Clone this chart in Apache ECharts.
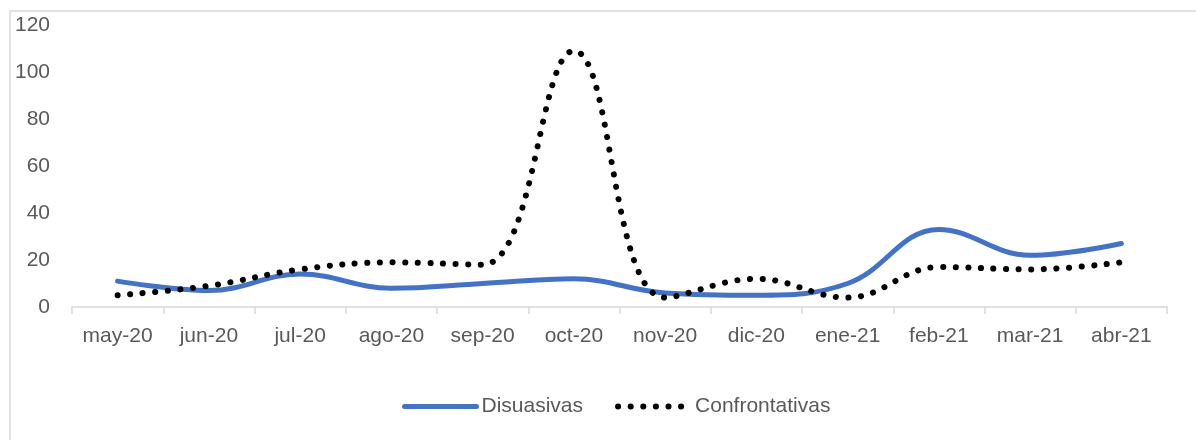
<!DOCTYPE html>
<html>
<head>
<meta charset="utf-8">
<script src="https://cdn.jsdelivr.net/npm/echarts@6/dist/echarts.min.js"></script>
<style>
  html, body { margin: 0; padding: 0; background: #fff; }
  #chart { width: 1196px; height: 440px; }
</style>
</head>
<body>
<div id="chart"></div>
<script>
const months = ["may-20", "jun-20", "jul-20", "ago-20", "sep-20", "oct-20",
  "nov-20", "dic-20", "ene-21", "feb-21", "mar-21", "abr-21"];
const disuasivas = [11, 7, 14, 8, 10, 12, 6, 5, 10, 33, 22, 27];
const confrontativas = [5, 9, 16, 19, 18, 109, 4, 12, 4, 17, 16, 19];
const yTicks = { min: 0, max: 120, interval: 20 };

const textColor = "#595959";
const lineGrey = "#d9d9d9";
const font = "'Liberation Sans', Arial, sans-serif";

const myChart = echarts.init(document.getElementById("chart"));

const option = {
  animation: false,
  graphic: [
    {
      type: "rect",
      shape: { x: 10, y: 11, width: 1200, height: 440 },
      style: { fill: "none", stroke: lineGrey, lineWidth: 1.5 },
      silent: true
    }
  ],
  legend: {
    bottom: 18,
    left: 397,
    itemWidth: 72,
    itemHeight: 12,
    itemGap: 32,
    textStyle: { color: textColor, fontSize: 21, fontFamily: font },
    data: [
      {
        name: "Disuasivas",
        itemStyle: { opacity: 0 },
        lineStyle: { width: 5, color: "#4472C4", cap: "round" }
      },
      {
        name: "Confrontativas",
        itemStyle: { opacity: 0 },
        lineStyle: { width: 6, color: "#000", type: [0.1, 12.5], cap: "round" }
      }
    ]
  },
  grid: { left: 72, right: 29, top: 25, bottom: 133 },
  xAxis: {
    type: "category",
    data: months,
    boundaryGap: true,
    axisLine: { lineStyle: { color: lineGrey, width: 1.5 } },
    axisTick: { show: true, length: 7, lineStyle: { color: lineGrey, width: 1.5 } },
    axisLabel: { color: textColor, fontSize: 21, fontFamily: font, margin: 19 }
  },
  yAxis: {
    type: "value",
    min: yTicks.min,
    max: yTicks.max,
    interval: yTicks.interval,
    axisLine: { show: false },
    axisTick: { show: false },
    splitLine: { show: false },
    axisLabel: { color: textColor, fontSize: 21, fontFamily: font, margin: 22 }
  },
  series: [
    {
      name: "Disuasivas",
      type: "line",
      smooth: 0.4,
      symbol: "none",
      lineStyle: { color: "#4472C4", width: 5, cap: "round" },
      itemStyle: { color: "#4472C4" },
      data: disuasivas
    },
    {
      name: "Confrontativas",
      type: "line",
      smooth: 0.4,
      symbol: "none",
      lineStyle: { color: "#000", width: 6, type: [0.1, 12.5], cap: "round" },
      itemStyle: { color: "#000" },
      data: confrontativas
    }
  ]
};

myChart.setOption(option);

window.addEventListener("resize", function () {
  myChart.resize();
});
</script>
</body>
</html>
